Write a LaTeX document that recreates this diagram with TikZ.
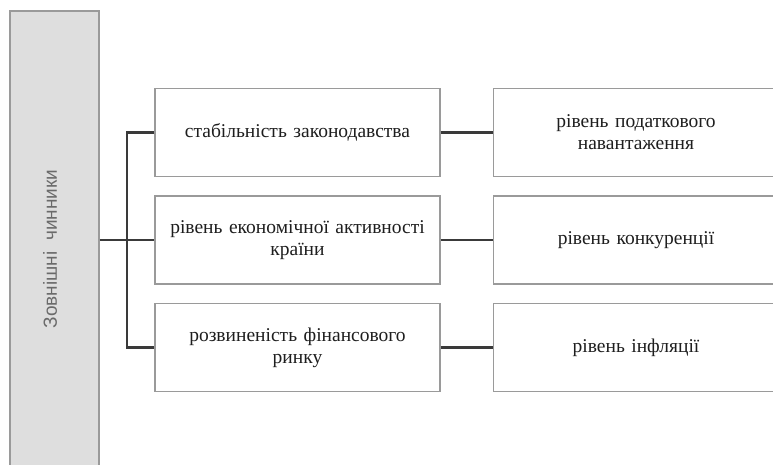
\documentclass[tikz,border=0pt]{standalone}
\usepackage{fontspec}
\setmainfont{Liberation Serif}
\newfontfamily\sidefont{Liberation Sans}
\definecolor{boxline}{HTML}{9A9A9A}
\definecolor{conn}{HTML}{3A3A3A}
\definecolor{sidefill}{HTML}{DEDEDE}
\definecolor{sidetext}{HTML}{6A6A6A}
\definecolor{txt}{HTML}{1E1E1E}
\begin{document}
\begin{tikzpicture}[x=1pt,y=-1pt,
  factor/.style={draw=boxline,line width=1.4pt,fill=white,minimum width=285pt,minimum height=88pt,
    align=center,text=txt,font=\fontsize{19.5}{22}\selectfont,inner sep=0pt,text width=280pt},
  link/.style={draw=conn,line width=2.4pt}]
\useasboundingbox (0,0) rectangle (773,465);
\clip (0,0) rectangle (773,465);
\fill[white] (0,0) rectangle (773,465);
\node[draw=boxline,line width=1.4pt,fill=sidefill,minimum width=89pt,minimum height=470pt,inner sep=0pt] (side) at (54.5,246) {};
\node[rotate=90,text=sidetext,font=\sidefont\fontsize{19}{21}\selectfont] at (50,249) {Зовнішні\ \ чинники};
\node[factor] (m1) at (297.5,132.5) {стабільність законодавства};
\node[factor] (m2) at (297.5,240) {рівень економічної активності\\країни};
\node[factor] (m3) at (297.5,347.5) {розвиненість фінансового\\ринку};
\node[factor] (r1) at (636,132.5) {рівень податкового\\навантаження};
\node[factor] (r2) at (636,240) {рівень конкуренції};
\node[factor] (r3) at (636,347.5) {рівень інфляції};
\coordinate (j) at (127,240);
\draw[link] (side.east |- j) -- (m2.west);
\draw[link] (m1.west) -| (j) |- (m3.west);
\draw[link] (m1.east) -- (r1.west);
\draw[link] (m2.east) -- (r2.west);
\draw[link] (m3.east) -- (r3.west);
\end{tikzpicture}
\end{document}
